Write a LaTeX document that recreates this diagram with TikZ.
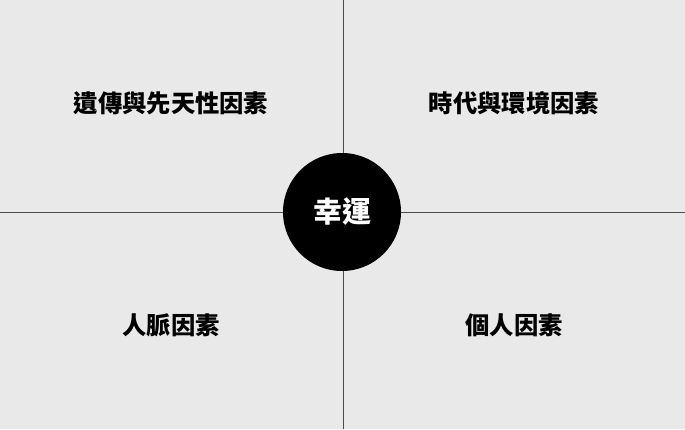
\documentclass[tikz,border=0pt]{standalone}
\usepackage{fontspec}
\newfontfamily\cjk{Noto Sans CJK TC}
\usepackage{tikz}

\begin{document}
\begin{tikzpicture}[x=1pt,y=-1pt,
	quadlabel/.style={font=\cjk\bfseries\fontsize{24.3}{24.3}\selectfont},
	axis/.style={line width=1,black!70}]
	\fill[gray!17] (0,0) rectangle (685,429);
	\useasboundingbox (0,0) rectangle (685,429);

	\coordinate (top) at (343,0);
	\coordinate (bottom) at (343,429);
	\coordinate (left) at (0,212);
	\coordinate (right) at (685,212);
	\draw[axis] (top) -- (bottom);
	\draw[axis] (left) -- (right);

	\node (luck) [circle,fill=black,minimum size=118,inner sep=0pt,text=white,font=\cjk\bfseries\fontsize{29}{29}\selectfont] at (342,212) {幸運};

	\node (gene) [quadlabel] at (171,103) {遺傳與先天性因素};
	\node (era) [quadlabel] at (514,103) {時代與環境因素};
	\node (network) [quadlabel] at (171,325) {人脈因素};
	\node (self) [quadlabel] at (514,325) {個人因素};
\end{tikzpicture}
\end{document}
